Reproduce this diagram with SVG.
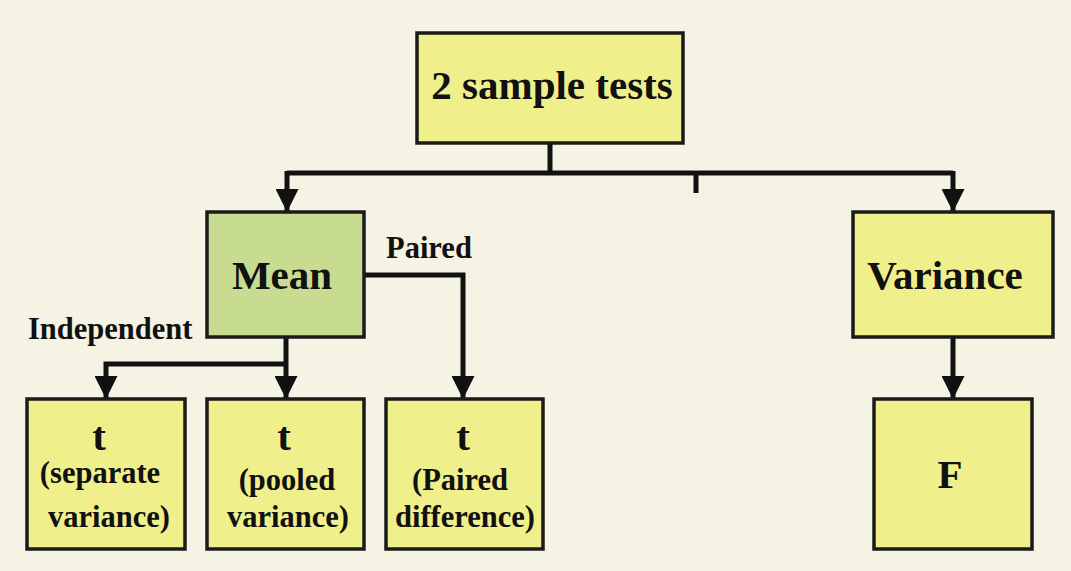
<svg xmlns="http://www.w3.org/2000/svg" width="1071" height="571" viewBox="0 0 1071 571">
<defs>
<style>
.box{stroke:#1a1a1a;stroke-width:3.5}
.y{fill:#eff08c}
.g{fill:#c8dc91}
.t{font-family:"Liberation Serif","Times New Roman",serif;font-weight:bold;fill:#111;text-anchor:middle}
.big{font-size:41px}
.sm{font-size:30.5px}
.lbl{font-family:"Liberation Serif","Times New Roman",serif;font-weight:bold;fill:#111;font-size:30.5px}
.c{fill:none;stroke:#111;stroke-width:5}
</style>
<marker id="ah" markerWidth="23" markerHeight="23" viewBox="0 0 23 23" refX="23" refY="11.5" orient="auto" markerUnits="userSpaceOnUse">
<path d="M0,0 L23,11.5 L0,23 z" fill="#111"/>
</marker>
</defs>
<rect width="1071" height="571" fill="#f5f4e4"/>
<g id="connectors">
<path class="c" d="M550,143 V173"/>
<path class="c" d="M287,173 H953"/>
<path class="c" d="M696,173 V193"/>
<path class="c" d="M287,171 V212" marker-end="url(#ah)"/>
<path class="c" d="M953,171 V212" marker-end="url(#ah)"/>
<path class="c" d="M953,337 V399" marker-end="url(#ah)"/>
<path class="c" d="M364,275 H463 V399" marker-end="url(#ah)"/>
<path class="c" d="M286,337 V399" marker-end="url(#ah)"/>
<path class="c" d="M288,364 H106 V399" marker-end="url(#ah)"/>
</g>
<g id="label-paired"><text class="lbl" x="386" y="258">Paired</text></g>
<g id="label-independent"><text class="lbl" x="28" y="339">Independent</text></g>
<g id="node-top">
<rect class="box y" x="417" y="33" width="266" height="110"/>
<text class="t big" x="552" y="99">2 sample tests</text>
</g>
<g id="node-mean">
<rect class="box g" x="207" y="212" width="157" height="125"/>
<text class="t big" x="282" y="289">Mean</text>
</g>
<g id="node-variance">
<rect class="box y" x="853" y="212" width="200" height="125"/>
<text class="t big" x="945" y="289">Variance</text>
</g>
<g id="node-f">
<rect class="box y" x="874" y="399" width="158" height="150"/>
<text class="t big" x="950" y="488">F</text>
</g>
<g id="node-t-separate">
<rect class="box y" x="27" y="399" width="158" height="150"/>
<text class="t big" x="99" y="450">t</text>
<text class="t sm" x="100" y="483">(separate</text>
<text class="t sm" x="109" y="527">variance)</text>
</g>
<g id="node-t-pooled">
<rect class="box y" x="207" y="399" width="157" height="150"/>
<text class="t big" x="284" y="450">t</text>
<text class="t sm" x="287" y="490">(pooled</text>
<text class="t sm" x="288" y="527">variance)</text>
</g>
<g id="node-t-paired">
<rect class="box y" x="386" y="399" width="157" height="150"/>
<text class="t big" x="463" y="450">t</text>
<text class="t sm" x="460" y="490">(Paired</text>
<text class="t sm" x="465" y="527">difference)</text>
</g>
</svg>
